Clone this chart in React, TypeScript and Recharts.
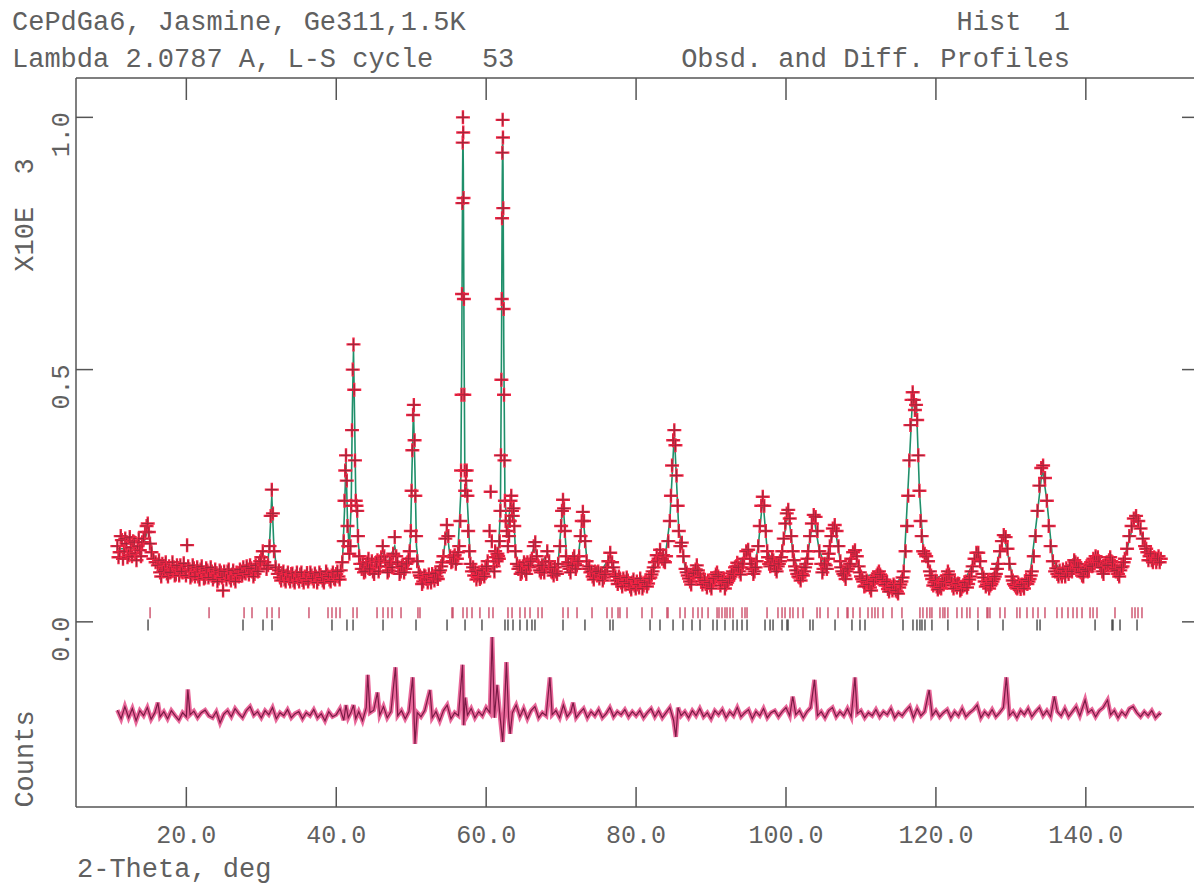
import React from 'react';
import { ComposedChart, XAxis, YAxis, Line, Scatter } from 'recharts';

const FONT = '"Liberation Mono", "Courier New", monospace';
const TEXT = '#606060';
const AXIS = '#555555';

const xTicks = [20, 40, 60, 80, 100, 120, 140];
const yTicks = [0, 0.5, 1.0];
const xDomain: [number, number] = [5.28, 154.43];
const yDomain: [number, number] = [-0.367, 1.078];

const titleLines = ['CePdGa6, Jasmine, Ge311,1.5K', 'Lambda 2.0787 A, L-S cycle   53'];
const rightTitles = ['Hist  1', 'Obsd. and Diff. Profiles'];
const xLabel = '2-Theta, deg';
const yLabelTop = 'X10E  3';
const yLabelBottom = 'Counts';

// observed intensity (x10^3 counts) vs 2-theta
const observed: [number, number][] = [
  [10.8,.150],[10.95,.128],[11.1,.138],[11.25,.170],[11.4,.162],[11.55,.125],[11.7,.140],[11.85,.165],[12.0,.155],[12.15,.128],
  [12.3,.132],[12.45,.168],[12.6,.148],[12.75,.130],[12.9,.160],[13.05,.158],[13.2,.136],[13.35,.122],[13.5,.150],[13.65,.165],
  [13.8,.142],[13.95,.130],[14.1,.158],[14.3,.165],[14.5,.178],[14.7,.190],[14.85,.195],[15.0,.178],[15.15,.155],[15.35,.138],
  [15.6,.125],[15.9,.118],[16.2,.112],[16.5,.098],[16.8,.115],[17.1,.104],[17.4,.096],[17.7,.110],[18.0,.100],[18.3,.108],
  [18.6,.094],[18.9,.105],[19.2,.112],[19.5,.098],[19.8,.104],[20.1,.152],[20.4,.100],[20.7,.092],[21.0,.106],[21.3,.098],
  [21.6,.090],[21.9,.104],[22.2,.096],[22.5,.088],[22.8,.102],[23.1,.094],[23.4,.100],[23.7,.090],[24.0,.096],[24.3,.086],
  [24.6,.098],[24.9,.062],[25.2,.092],[25.5,.100],[25.8,.088],[26.1,.094],[26.4,.086],[26.7,.098],[27.0,.090],[27.3,.100],
  [27.6,.108],[27.9,.096],[28.2,.104],[28.5,.112],[28.8,.100],[29.1,.095],[29.4,.106],[29.7,.115],[30.0,.128],[30.2,.140],
  [30.4,.118],[30.7,.105],[30.9,.112],[31.1,.150],[31.25,.210],[31.4,.262],[31.55,.215],[31.7,.140],[31.9,.108],[32.2,.095],
  [32.5,.088],[32.8,.096],[33.1,.084],[33.4,.092],[33.7,.086],[34.0,.095],[34.3,.082],[34.6,.090],[34.9,.086],[35.2,.094],
  [35.5,.083],[35.8,.090],[36.1,.097],[36.4,.086],[36.7,.092],[37.0,.080],[37.3,.090],[37.6,.085],[37.9,.093],[38.2,.082],
  [38.5,.088],[38.8,.094],[39.1,.084],[39.4,.092],[39.7,.086],[40.0,.095],[40.3,.090],[40.6,.102],[40.8,.118],[41.0,.160],
  [41.1,.240],[41.2,.300],[41.3,.330],[41.4,.280],[41.5,.190],[41.6,.150],[41.75,.135],[41.9,.150],[42.0,.230],[42.1,.380],
  [42.2,.500],[42.3,.550],[42.4,.460],[42.5,.320],[42.6,.240],[42.7,.230],[42.8,.220],[42.9,.170],[43.05,.130],[43.2,.115],
  [43.4,.105],[43.7,.098],[44.0,.110],[44.3,.125],[44.6,.112],[44.9,.100],[45.2,.108],[45.5,.122],[45.8,.110],[46.0,.128],
  [46.2,.150],[46.4,.130],[46.7,.110],[47.0,.102],[47.3,.115],[47.6,.135],[47.8,.168],[48.0,.130],[48.3,.108],[48.6,.100],
  [48.9,.112],[49.2,.105],[49.5,.118],[49.8,.140],[49.95,.180],[50.05,.260],[50.15,.340],[50.25,.410],[50.35,.430],[50.45,.360],
  [50.55,.250],[50.65,.170],[50.8,.120],[51.0,.098],[51.3,.088],[51.6,.080],[51.9,.090],[52.2,.078],[52.5,.086],[52.8,.095],
  [53.1,.082],[53.4,.090],[53.7,.098],[54.0,.110],[54.3,.130],[54.55,.165],[54.75,.192],[54.95,.170],[55.2,.130],[55.5,.120],
  [55.8,.132],[56.1,.125],[56.4,.150],[56.55,.200],[56.65,.300],[56.72,.450],[56.78,.650],[56.83,.830],[56.87,.950],[56.9,1.000],
  [56.94,.970],[56.98,.840],[57.03,.640],[57.08,.450],[57.14,.300],[57.2,.260],[57.3,.280],[57.4,.300],[57.5,.250],[57.6,.180],
  [57.75,.140],[57.9,.115],[58.1,.100],[58.4,.092],[58.7,.084],[59.0,.098],[59.3,.088],[59.6,.095],[59.9,.105],[60.2,.120],
  [60.45,.180],[60.6,.258],[60.75,.160],[61.0,.110],[61.2,.140],[61.4,.120],[61.6,.130],[61.8,.160],[61.9,.220],[61.97,.330],
  [62.03,.480],[62.08,.640],[62.12,.800],[62.16,.930],[62.2,.995],[62.24,.960],[62.28,.820],[62.33,.620],[62.38,.450],[62.44,.320],
  [62.5,.240],[62.6,.200],[62.75,.180],[62.9,.150],[63.05,.170],[63.15,.200],[63.25,.240],[63.35,.250],[63.45,.220],[63.55,.210],
  [63.65,.225],[63.75,.190],[63.9,.140],[64.1,.115],[64.3,.105],[64.6,.095],[64.9,.110],[65.2,.102],[65.5,.118],[65.8,.108],
  [66.1,.125],[66.35,.150],[66.55,.158],[66.75,.130],[67.0,.110],[67.3,.098],[67.6,.105],[67.9,.118],[68.15,.140],[68.4,.120],
  [68.7,.100],[69.0,.092],[69.3,.100],[69.6,.115],[69.85,.150],[70.0,.190],[70.12,.220],[70.25,.242],[70.38,.225],[70.5,.180],
  [70.65,.130],[70.85,.110],[71.1,.105],[71.35,.115],[71.6,.125],[71.85,.115],[72.1,.112],[72.4,.130],[72.6,.170],[72.75,.200],
  [72.9,.218],[73.05,.200],[73.2,.160],[73.4,.120],[73.6,.105],[73.9,.098],[74.2,.090],[74.5,.100],[74.8,.092],[75.1,.086],
  [75.4,.095],[75.7,.088],[76.0,.100],[76.3,.120],[76.55,.137],[76.8,.118],[77.1,.095],[77.4,.082],[77.7,.090],[78.0,.078],
  [78.3,.086],[78.6,.074],[78.9,.082],[79.2,.070],[79.5,.078],[79.8,.072],[80.1,.080],[80.4,.068],[80.7,.078],[81.0,.072],
  [81.3,.082],[81.6,.076],[81.9,.088],[82.2,.100],[82.5,.118],[82.75,.132],[83.0,.125],[83.2,.143],[83.45,.125],[83.7,.120],
  [84.0,.130],[84.3,.160],[84.5,.200],[84.65,.250],[84.8,.310],[84.95,.360],[85.1,.380],[85.25,.350],[85.4,.290],[85.55,.230],
  [85.7,.180],[85.9,.150],[86.1,.157],[86.3,.130],[86.6,.105],[86.9,.092],[87.2,.080],[87.5,.090],[87.8,.100],[88.1,.112],
  [88.4,.095],[88.7,.080],[89.0,.086],[89.3,.075],[89.6,.082],[89.9,.072],[90.2,.080],[90.5,.088],[90.8,.098],[91.1,.085],
  [91.4,.078],[91.7,.086],[92.0,.074],[92.3,.082],[92.6,.090],[92.9,.100],[93.2,.108],[93.5,.117],[93.8,.100],[94.1,.108],
  [94.4,.125],[94.7,.140],[94.95,.143],[95.2,.125],[95.5,.105],[95.8,.100],[96.1,.120],[96.3,.150],[96.5,.190],[96.7,.230],
  [96.9,.248],[97.1,.230],[97.3,.180],[97.5,.140],[97.75,.115],[98.0,.118],[98.3,.122],[98.6,.105],[98.9,.110],[99.2,.120],
  [99.5,.140],[99.7,.165],[99.9,.195],[100.1,.215],[100.3,.222],[100.5,.205],[100.7,.170],[100.9,.140],[101.2,.110],[101.5,.095],
  [101.8,.088],[102.1,.095],[102.4,.100],[102.7,.115],[102.95,.140],[103.2,.170],[103.45,.195],[103.7,.212],[103.95,.208],[104.2,.180],
  [104.45,.140],[104.7,.115],[105.0,.105],[105.3,.112],[105.6,.125],[105.85,.150],[106.05,.170],[106.25,.185],[106.5,.192],[106.75,.180],
  [107.0,.150],[107.25,.120],[107.5,.100],[107.8,.092],[108.1,.100],[108.4,.110],[108.7,.125],[108.95,.138],[109.2,.142],[109.45,.130],
  [109.7,.110],[110.0,.090],[110.3,.080],[110.6,.072],[110.9,.078],[111.2,.068],[111.5,.076],[111.8,.085],[112.1,.092],[112.4,.100],
  [112.7,.090],[113.0,.080],[113.3,.072],[113.6,.065],[113.9,.072],[114.2,.062],[114.5,.070],[114.8,.060],[115.1,.068],[115.4,.080],
  [115.7,.100],[115.95,.140],[116.15,.190],[116.3,.250],[116.45,.320],[116.6,.390],[116.75,.440],[116.9,.455],[117.05,.440],[117.2,.420],
  [117.35,.430],[117.5,.400],[117.65,.330],[117.8,.260],[117.95,.200],[118.1,.170],[118.3,.140],[118.5,.135],[118.7,.130],[118.95,.120],
  [119.2,.100],[119.5,.085],[119.8,.078],[120.1,.070],[120.4,.076],[120.7,.066],[121.0,.074],[121.3,.085],[121.6,.100],[121.9,.085],
  [122.2,.072],[122.5,.080],[122.8,.068],[123.1,.075],[123.4,.065],[123.7,.072],[124.0,.080],[124.3,.075],[124.6,.090],[124.9,.110],
  [125.15,.125],[125.4,.137],[125.65,.137],[125.9,.120],[126.2,.095],[126.5,.080],[126.8,.074],[127.1,.066],[127.4,.075],[127.7,.085],
  [128.0,.095],[128.3,.115],[128.55,.140],[128.8,.160],[129.05,.172],[129.3,.168],[129.55,.145],[129.8,.115],[130.1,.090],[130.4,.075],
  [130.7,.068],[131.0,.076],[131.3,.065],[131.6,.072],[131.9,.080],[132.2,.075],[132.5,.085],[132.8,.100],[133.05,.130],[133.3,.170],
  [133.55,.220],[133.8,.270],[134.05,.305],[134.3,.310],[134.55,.285],[134.8,.240],[135.05,.190],[135.3,.150],[135.6,.120],[135.9,.100],
  [136.2,.095],[136.5,.102],[136.8,.090],[137.1,.098],[137.4,.106],[137.7,.095],[138.0,.105],[138.3,.112],[138.6,.118],[138.9,.115],
  [139.2,.100],[139.5,.092],[139.8,.100],[140.1,.110],[140.4,.105],[140.7,.118],[141.0,.125],[141.3,.130],[141.6,.128],[141.9,.115],
  [142.2,.100],[142.5,.108],[142.8,.118],[143.1,.122],[143.4,.120],[143.7,.112],[144.0,.100],[144.3,.095],[144.6,.102],[144.9,.110],
  [145.2,.125],[145.5,.145],[145.8,.170],[146.1,.190],[146.4,.205],[146.7,.210],[147.0,.200],[147.3,.185],[147.6,.165],[147.9,.150],
  [148.2,.138],[148.5,.130],[148.8,.122],[149.1,.128],[149.4,.118],[149.7,.130],[150.0,.125],
];

// further observed points in the background stretches (read between the points above)
const observedBetween: [number, number][] = [
  [16.35,.122],[16.65,.090],[16.95,.100],[17.25,.118],[17.55,.090],[17.85,.098],[18.15,.118],[18.45,.092],[18.75,.112],[19.05,.092],
  [19.35,.100],[19.65,.116],[19.95,.092],[20.25,.110],[20.55,.088],[20.85,.112],[21.15,.090],[21.45,.108],[21.75,.084],[22.05,.110],
  [22.35,.086],[22.65,.106],[22.95,.088],[23.25,.108],[23.55,.084],[23.85,.104],[24.15,.080],[24.45,.102],[24.75,.088],[25.05,.100],
  [25.35,.084],[25.65,.104],[25.95,.082],[26.25,.102],[26.55,.080],[26.85,.096],[27.15,.104],[27.45,.092],[27.75,.098],[28.05,.110],
  [28.35,.094],[28.65,.106],[28.95,.090],[29.25,.112],[29.55,.100],[29.85,.120],
  [32.35,.102],[32.65,.082],[32.95,.100],[33.25,.080],[33.55,.098],[33.85,.080],[34.15,.096],[34.45,.078],[34.75,.098],[35.05,.080],
  [35.35,.098],[35.65,.078],[35.95,.086],[36.25,.080],[36.55,.098],[36.85,.086],[37.15,.096],[37.45,.078],[37.75,.098],[38.05,.088],
  [38.35,.078],[38.65,.100],[38.95,.090],[39.25,.080],[39.55,.098],[39.85,.084],[40.15,.100],[40.45,.084],
  [43.55,.115],[43.85,.100],[44.15,.118],[44.45,.105],[44.75,.120],[45.05,.095],[45.35,.118],[45.65,.100],[45.9,.120],[46.55,.120],
  [46.85,.098],[47.15,.118],[47.45,.108],[48.15,.118],[48.45,.095],[48.75,.110],[49.05,.098],[49.35,.115],[49.65,.125],
  [51.15,.092],[51.45,.075],[51.75,.092],[52.05,.085],[52.35,.094],[52.65,.078],[52.95,.088],[53.25,.096],[53.55,.085],[53.85,.102],
  [54.15,.118],[55.35,.118],[55.65,.128],[55.95,.115],[56.25,.138],
  [58.25,.108],[58.55,.100],[58.85,.092],[59.15,.085],[59.45,.102],[59.75,.090],[60.05,.110],[61.1,.100],[61.3,.128],[61.5,.135],[61.7,.125],
  [64.45,.110],[64.75,.098],[65.05,.118],[65.35,.095],[65.65,.112],[65.95,.120],[67.15,.102],[67.45,.112],[67.75,.098],[68.55,.108],
  [68.85,.098],[69.15,.108],[69.45,.095],
  [70.95,.118],[71.25,.098],[71.5,.112],[71.75,.130],[71.95,.105],[72.25,.120],[73.75,.110],[74.05,.100],[74.35,.084],[74.65,.098],
  [74.95,.100],[75.25,.096],[75.55,.082],[75.85,.094],[76.15,.108],
  [76.95,.108],[77.25,.090],[77.55,.075],[77.85,.086],[78.15,.070],[78.45,.080],[78.75,.088],[79.05,.076],[79.35,.064],[79.65,.084],
  [79.95,.066],[80.25,.074],[80.55,.086],[80.85,.066],[81.15,.078],[81.45,.070],[81.75,.086],[82.05,.094],[82.35,.108],[82.9,.120],
  [83.6,.132],[83.85,.118],
  [86.75,.098],[87.05,.086],[87.35,.074],[87.65,.096],[87.95,.104],[88.25,.102],[88.55,.088],[88.85,.074],[89.15,.082],[89.45,.068],
  [89.75,.078],[90.05,.066],[90.35,.086],[90.65,.094],[90.95,.090],[91.25,.072],[91.55,.082],[91.85,.066],[92.15,.078],[92.45,.086],
  [92.75,.096],[93.05,.094],[93.35,.110],[93.65,.108],[93.95,.094],[94.25,.115],
  [95.35,.115],[95.65,.095],[95.95,.108],[97.6,.128],[97.9,.110],[98.15,.125],[98.45,.112],[98.75,.100],[99.05,.115],[99.35,.128],
  [101.05,.122],[101.35,.102],[101.65,.090],[101.95,.082],[102.25,.092],[102.55,.108],[102.85,.125],
  [104.85,.098],[105.15,.115],[105.45,.105],[105.7,.135],[107.35,.108],[107.65,.095],[107.95,.085],[108.25,.105],[108.55,.115],
  [109.85,.098],[110.15,.085],[110.45,.070],[110.75,.082],[111.05,.074],[111.35,.062],[111.65,.080],[111.95,.088],[112.25,.096],[112.55,.094],
  [112.85,.084],[113.15,.074],[113.45,.080],[113.75,.060],[114.05,.068],[114.35,.074],[114.65,.062],[114.95,.056],[115.25,.074],[115.55,.088],
  [119.35,.092],[119.65,.072],[119.95,.082],[120.25,.064],[120.55,.068],[120.85,.080],[121.15,.080],[121.45,.092],[121.75,.094],[122.05,.078],
  [122.35,.066],[122.65,.074],[122.95,.076],[123.25,.062],[123.55,.070],[123.85,.078],[124.15,.068],[124.45,.084],[124.75,.100],
  [126.35,.088],[126.65,.070],[126.95,.080],[127.25,.072],[127.55,.080],[127.85,.090],[128.15,.105],
  [130.25,.082],[130.55,.072],[130.85,.066],[131.15,.070],[131.45,.074],[131.75,.066],[132.05,.084],[132.35,.080],[132.65,.092],
  [136.05,.106],[136.35,.090],[136.65,.096],[136.95,.104],[137.25,.090],[137.55,.100],[137.85,.110],[138.15,.100],[138.45,.122],[138.75,.108],
  [139.05,.108],[139.35,.098],[139.65,.090],[139.95,.104],[140.25,.100],[140.55,.112],[140.85,.110],[141.15,.120],[141.45,.120],[141.75,.120],
  [142.05,.108],[142.35,.095],[142.65,.114],[142.95,.112],[143.25,.128],[143.55,.118],[143.85,.105],[144.15,.102],[144.45,.090],[144.75,.108],
  [145.05,.118],[148.05,.145],[148.35,.122],[148.65,.135],[148.95,.118],[149.25,.126],[149.55,.125],[149.85,.118],
];

// calculated profile
const calculated: [number, number][] = [
  [10.8,.145],[13,.145],[14.3,.155],[14.9,.185],[15.5,.135],[16.5,.108],[20,.102],[25,.095],[28,.098],[30.2,.115],
  [30.9,.12],[31.15,.17],[31.4,.25],[31.65,.16],[32,.105],[36,.088],[40,.09],[40.8,.11],[41.1,.22],[41.3,.32],
  [41.5,.2],[41.75,.14],[42.0,.24],[42.15,.42],[42.3,.54],[42.45,.4],[42.6,.25],[42.75,.23],[42.9,.16],[43.3,.11],
  [44.3,.115],[45,.108],[46.2,.14],[46.7,.11],[47.8,.15],[48.3,.108],[49.5,.115],[49.9,.16],[50.1,.3],[50.3,.42],
  [50.5,.3],[50.7,.15],[51.1,.095],[53,.088],[54.2,.12],[54.75,.185],[55.2,.125],[56.2,.13],[56.6,.25],[56.75,.55],
  [56.85,.88],[56.9,.975],[56.95,.9],[57.05,.55],[57.15,.3],[57.35,.28],[57.55,.22],[57.9,.115],[59,.095],[60.6,.1],
  [61.6,.13],[61.9,.22],[62.05,.55],[62.15,.88],[62.2,.965],[62.25,.9],[62.35,.55],[62.5,.25],[62.8,.17],[63.3,.245],
  [63.5,.215],[63.65,.225],[63.9,.14],[64.3,.105],[65.5,.11],[66.5,.152],[67,.11],[68.2,.135],[68.8,.1],[69.6,.115],
  [70.25,.24],[70.8,.11],[71.6,.12],[72.2,.115],[72.9,.215],[73.5,.11],[75,.092],[76.55,.13],[77.3,.088],[80,.075],
  [82,.09],[82.75,.128],[83.2,.14],[83.8,.12],[84.5,.2],[85.1,.375],[85.7,.18],[86.1,.155],[86.6,.1],[88.1,.108],
  [89,.08],[92,.08],[93.5,.112],[94.95,.14],[95.7,.1],[96.3,.15],[96.9,.245],[97.5,.14],[98.3,.118],[99,.11],
  [99.6,.155],[100.3,.22],[100.9,.14],[101.8,.09],[102.9,.135],[103.7,.21],[104.4,.145],[105.2,.11],[106.5,.19],[107.3,.115],
  [108.1,.1],[109.2,.14],[110,.09],[112.4,.095],[114.5,.068],[115.7,.1],[116.4,.3],[116.9,.45],[117.2,.42],[117.4,.43],
  [117.8,.26],[118.3,.145],[118.7,.13],[119.5,.085],[121.6,.095],[123.5,.07],[125.5,.135],[126.5,.08],[127.4,.075],[129.1,.17],
  [130.4,.075],[132.5,.085],[133.5,.21],[134.2,.305],[134.8,.24],[135.6,.12],[137,.098],[138.7,.115],[139.5,.095],[141.3,.128],
  [142.2,.102],[143.3,.12],[144.3,.098],[145.5,.145],[146.6,.208],[147.6,.165],[148.8,.125],[150,.125],
];

// difference curve (obs - calc, offset)
const difference: [number, number][] = [
  [10.8,-.175],[11.3,-.192],[11.8,-.168],[12.3,-.190],[12.8,-.172],[13.3,-.196],[13.8,-.176],[14.3,-.186],[14.8,-.170],[15.3,-.193],
  [15.8,-.180],[16.2,-.160],[16.5,-.188],[17.0,-.178],[17.5,-.192],[18.0,-.176],[18.5,-.186],[19.0,-.195],[19.5,-.180],[20.0,-.188],
  [20.2,-.134],[20.5,-.184],[21.0,-.177],[21.5,-.190],[22.0,-.180],[22.5,-.175],[23.0,-.186],[23.5,-.190],[24.0,-.178],[24.5,-.200],
  [25.0,-.183],[25.5,-.176],[26.0,-.188],[26.5,-.172],[27.0,-.182],[27.5,-.190],[28.0,-.176],[28.5,-.168],[29.0,-.185],[29.5,-.178],
  [30.0,-.190],[30.5,-.176],[31.0,-.184],[31.5,-.170],[32.0,-.192],[32.5,-.180],[33.0,-.186],[33.5,-.174],[34.0,-.190],[34.5,-.182],
  [35.0,-.178],[35.5,-.192],[36.0,-.180],[36.5,-.186],[37.0,-.174],[37.5,-.190],[38.0,-.182],[38.5,-.196],[39.0,-.178],[39.5,-.188],
  [40.0,-.184],[40.5,-.172],[41.0,-.195],[41.3,-.165],[41.6,-.190],[42.0,-.178],[42.3,-.165],[42.6,-.192],[43.0,-.178],[43.5,-.196],
  [44.0,-.170],[44.2,-.105],[44.5,-.180],[45.0,-.175],[45.5,-.140],[45.8,-.185],[46.3,-.168],[46.8,-.190],[47.3,-.178],[47.9,-.090],
  [48.2,-.186],[48.7,-.176],[49.2,-.192],[49.7,-.178],[50.2,-.110],[50.5,-.242],[50.8,-.180],[51.3,-.188],[51.8,-.176],[52.5,-.135],
  [52.8,-.190],[53.3,-.178],[53.8,-.196],[54.3,-.176],[54.8,-.165],[55.3,-.192],[55.8,-.180],[56.3,-.186],[56.85,-.085],[57.0,-.205],
  [57.2,-.150],[57.5,-.185],[58.0,-.172],[58.5,-.190],[59.0,-.178],[59.5,-.186],[60.0,-.170],[60.5,-.180],[60.8,-.030],[61.1,-.190],
  [61.45,-.125],[61.8,-.180],[62.2,-.238],[62.45,-.170],[62.7,-.080],[63.0,-.190],[63.2,-.222],[63.5,-.180],[64.0,-.165],[64.5,-.188],
  [65.0,-.172],[65.5,-.192],[66.0,-.176],[66.5,-.168],[67.0,-.190],[67.5,-.180],[68.0,-.186],[68.5,-.110],[68.8,-.184],[69.3,-.176],
  [69.8,-.190],[70.3,-.165],[70.8,-.188],[71.3,-.178],[71.6,-.160],[72.0,-.190],[72.5,-.180],[73.0,-.172],[73.5,-.190],[74.0,-.178],
  [74.5,-.186],[75.0,-.174],[75.5,-.190],[76.0,-.182],[76.5,-.170],[77.0,-.188],[77.5,-.178],[78.0,-.184],[78.5,-.174],[79.0,-.188],
  [79.5,-.178],[80.0,-.186],[80.5,-.176],[81.0,-.190],[81.5,-.180],[82.0,-.172],[82.5,-.188],[83.0,-.176],[83.5,-.190],[84.0,-.180],
  [84.5,-.170],[85.0,-.195],[85.3,-.228],[85.6,-.170],[86.0,-.186],[86.5,-.178],[87.0,-.190],[87.5,-.176],[88.0,-.186],[88.5,-.172],
  [89.0,-.188],[89.5,-.180],[90.0,-.192],[90.5,-.176],[91.0,-.184],[91.5,-.174],[92.0,-.190],[92.5,-.178],[93.0,-.186],[93.5,-.170],
  [94.0,-.188],[94.5,-.180],[95.0,-.174],[95.5,-.192],[96.0,-.178],[96.5,-.186],[97.0,-.172],[97.5,-.190],[98.0,-.180],[98.5,-.176],
  [99.0,-.188],[99.5,-.178],[100.0,-.170],[100.5,-.186],[100.9,-.148],[101.3,-.184],[101.8,-.176],[102.3,-.190],[102.8,-.178],[103.3,-.170],
  [103.8,-.115],[104.2,-.186],[104.7,-.178],[105.2,-.190],[105.7,-.176],[106.2,-.170],[106.7,-.188],[107.2,-.178],[107.7,-.186],[108.2,-.172],
  [108.7,-.188],[109.2,-.110],[109.5,-.182],[110.0,-.176],[110.5,-.190],[111.0,-.180],[111.5,-.186],[112.0,-.174],[112.5,-.188],[113.0,-.178],
  [113.5,-.184],[114.0,-.172],[114.5,-.190],[115.0,-.180],[115.5,-.186],[116.0,-.176],[116.5,-.168],[117.0,-.190],[117.5,-.172],[118.0,-.186],
  [118.5,-.178],[119.1,-.135],[119.5,-.186],[120.0,-.176],[120.5,-.188],[121.0,-.180],[121.5,-.174],[122.0,-.190],[122.5,-.178],[123.0,-.186],
  [123.5,-.172],[124.0,-.188],[124.5,-.180],[125.0,-.174],[125.5,-.165],[126.0,-.190],[126.5,-.178],[127.0,-.186],[127.5,-.174],[128.0,-.188],
  [128.5,-.180],[129.0,-.170],[129.4,-.110],[129.8,-.186],[130.3,-.178],[130.8,-.190],[131.3,-.176],[131.8,-.184],[132.3,-.172],[132.8,-.188],
  [133.3,-.178],[133.8,-.170],[134.3,-.186],[134.8,-.176],[135.3,-.188],[135.8,-.148],[136.2,-.178],[136.7,-.186],[137.2,-.172],[137.7,-.188],
  [138.2,-.178],[138.7,-.168],[139.2,-.186],[139.9,-.155],[140.3,-.180],[140.8,-.174],[141.3,-.188],[141.8,-.176],[142.3,-.170],[142.9,-.155],
  [143.3,-.184],[143.8,-.176],[144.3,-.190],[144.8,-.178],[145.3,-.186],[145.8,-.172],[146.3,-.168],[146.8,-.180],[147.3,-.188],[147.8,-.178],
  [148.3,-.186],[148.8,-.176],[149.3,-.190],[149.8,-.182],[150.0,-.185],
];

// reflection positions (2-theta), upper row (phase 1) and lower row (phase 2)
const reflectionsUpper = [
  15.16,23.03,27.70,28.76,30.76,31.43,32.37,36.36,38.90,39.43,39.97,40.50,42.24,42.77,45.44,46.24,46.90,47.44,48.64,50.90,
  51.17,55.44,55.57,56.91,57.44,58.11,59.17,60.37,60.91,62.91,63.45,64.51,65.18,65.85,66.92,67.45,70.25,70.92,72.12,74.12,
  76.12,76.79,77.59,77.85,78.79,80.79,82.12,84.12,84.26,85.86,86.53,87.59,88.26,88.80,89.60,90.80,91.06,91.46,91.86,92.13,
  92.53,92.93,94.13,94.53,94.80,97.47,98.93,99.47,99.87,100.53,100.93,101.60,102.27,104.14,104.54,105.60,106.94,108.14,108.27,108.94,
  109.87,110.94,111.47,111.87,112.27,112.94,114.14,115.47,117.87,118.27,118.80,119.20,119.47,120.54,120.94,121.20,121.60,122.81,123.47,124.14,
  124.54,125.61,126.81,126.94,127.21,128.55,129.21,130.81,131.21,132.15,132.95,133.62,134.55,136.15,136.82,137.62,138.29,138.82,139.49,140.56,
  140.96,141.49,143.89,146.16,146.56,146.96,147.49,
];
const reflectionsLower = [
  14.89,27.56,30.23,31.43,39.43,41.43,42.24,46.24,50.64,54.78,57.18,59.44,62.51,62.91,63.58,64.51,65.45,66.11,66.51,70.25,
  73.18,76.52,76.92,81.86,83.19,84.93,86.26,87.46,88.53,90.26,90.80,91.86,92.93,93.47,94.13,94.80,97.20,97.87,98.27,99.47,
  100.13,100.27,103.20,103.60,106.54,108.80,109.87,110.54,115.61,116.94,117.47,117.87,118.14,118.54,119.47,121.60,125.61,128.95,133.49,133.89,
  141.23,143.49,143.62,144.56,146.83,
];
const upperRowLevel = 0.018;
const lowerRowLevel = -0.006;

const obsData = observed.concat(observedBetween).map(([x, y]) => ({ x, y }));
const calcData = calculated.map(([x, y]) => ({ x, y }));
const diffData = difference.map(([x, y]) => ({ x, y }));
const upperData = reflectionsUpper.map((x) => ({ x, y: upperRowLevel }));
const lowerData = reflectionsLower.map((x) => ({ x, y: lowerRowLevel }));

const PlusMarker = (p: any) => {
  const { cx, cy } = p;
  if (cx == null || cy == null) return <g />;
  return (
    <g>
      <path d={`M${cx - 7},${cy}H${cx + 7}M${cx},${cy - 7}V${cy + 7}`} stroke="#f42444" strokeWidth={2.4} fill="none" />
      <path d={`M${cx - 5.5},${cy}H${cx + 5.5}M${cx},${cy - 5.5}V${cy + 5.5}`} stroke="#3a2a30" strokeWidth={1.1} opacity={0.45} fill="none" />
    </g>
  );
};

const makeTickMark = (color: string) => (p: any) => {
  const { cx, cy } = p;
  if (cx == null || cy == null) return <g />;
  return <path d={`M${cx},${cy - 5.5}V${cy + 5.5}`} stroke={color} strokeWidth={1.3} fill="none" />;
};
const UpperTickMark = makeTickMark('#c8405e');
const LowerTickMark = makeTickMark('#3a3a3a');

const BottomTick = (p: any) => (
  <g>
    <line x1={p.x} x2={p.x} y1={p.y} y2={p.y - 20} stroke={AXIS} strokeWidth={1.5} />
    <text x={p.x} y={p.y + 36} textAnchor="middle" fontFamily={FONT} fontSize={25} fill={TEXT}>
      {Number(p.payload.value).toFixed(1)}
    </text>
  </g>
);
const TopTick = (p: any) => (
  <line x1={p.x} x2={p.x} y1={p.y} y2={p.y + 22} stroke={AXIS} strokeWidth={1.5} />
);
const LeftTick = (p: any) => (
  <g>
    <line x1={p.x} x2={p.x + 17} y1={p.y} y2={p.y} stroke={AXIS} strokeWidth={1.5} />
    <text transform={`translate(${p.x - 7},${p.y - 5}) rotate(-90)`} textAnchor="end" fontFamily={FONT} fontSize={25} fill={TEXT}>
      {Number(p.payload.value).toFixed(1)}
    </text>
  </g>
);
const RightTick = (p: any) => (
  <line x1={p.x - 12} x2={p.x} y1={p.y} y2={p.y} stroke={AXIS} strokeWidth={1.5} />
);

const textStyle: React.CSSProperties = { whiteSpace: 'pre' };

export default function App() {
  return (
    <div style={{ position: 'absolute', left: 0, top: 0, width: 1194, height: 886, background: '#ffffff', overflow: 'hidden' }}>
      <ComposedChart width={1195} height={886} margin={{ top: 77, right: 0, bottom: 78, left: 75 }}>
        <XAxis xAxisId="b" type="number" dataKey="x" domain={xDomain} ticks={xTicks} interval={0} allowDataOverflow
          height={1} tickSize={0} tickMargin={0} tickLine={false} axisLine={{ stroke: AXIS, strokeWidth: 1.5 }} tick={BottomTick} />
        <XAxis xAxisId="t" orientation="top" type="number" dataKey="x" domain={xDomain} ticks={xTicks} interval={0} allowDataOverflow
          height={1} tickSize={0} tickMargin={0} tickLine={false} axisLine={{ stroke: AXIS, strokeWidth: 1.5 }} tick={TopTick} />
        <YAxis yAxisId="l" type="number" dataKey="y" domain={yDomain} ticks={yTicks} interval={0} allowDataOverflow
          width={1} tickSize={0} tickMargin={0} tickLine={false} axisLine={{ stroke: AXIS, strokeWidth: 1.5 }} tick={LeftTick} />
        <YAxis yAxisId="r" orientation="right" type="number" dataKey="y" domain={yDomain} ticks={yTicks} interval={0} allowDataOverflow
          width={1} tickSize={0} tickMargin={0} tickLine={false} axisLine={false} tick={RightTick} />

        <Scatter xAxisId="b" yAxisId="l" data={upperData} dataKey="y" shape={UpperTickMark} isAnimationActive={false} />
        <Scatter xAxisId="b" yAxisId="l" data={lowerData} dataKey="y" shape={LowerTickMark} isAnimationActive={false} />
        <Line xAxisId="b" yAxisId="l" data={calcData} dataKey="y" type="linear" stroke="#1f8f6a" strokeWidth={1.6} dot={false} isAnimationActive={false} />
        <Scatter xAxisId="b" yAxisId="l" data={obsData} dataKey="y" shape={PlusMarker} isAnimationActive={false} />
        <Line xAxisId="b" yAxisId="l" data={diffData} dataKey="y" type="linear" stroke="#e23678" strokeOpacity={0.75} strokeWidth={4.5} dot={false} isAnimationActive={false} />
        <Line xAxisId="b" yAxisId="l" data={diffData} dataKey="y" type="linear" stroke="#7a1a45" strokeWidth={1.2} dot={false} isAnimationActive={false} />
      </ComposedChart>
      <svg width={1194} height={886} style={{ position: 'absolute', left: 0, top: 0, pointerEvents: 'none' }}>
        <text x={12} y={30} fontFamily={FONT} fontSize={27} fill={TEXT} style={textStyle} xmlSpace="preserve">{titleLines[0]}</text>
        <text x={12} y={67} fontFamily={FONT} fontSize={27} fill={TEXT} style={textStyle} xmlSpace="preserve">{titleLines[1]}</text>
        <text x={1070} y={30} textAnchor="end" fontFamily={FONT} fontSize={27} fill={TEXT} style={textStyle} xmlSpace="preserve">{rightTitles[0]}</text>
        <text x={1070} y={67} textAnchor="end" fontFamily={FONT} fontSize={27} fill={TEXT} style={textStyle} xmlSpace="preserve">{rightTitles[1]}</text>
        <text x={77} y={877} fontFamily={FONT} fontSize={27} fill={TEXT} style={textStyle} xmlSpace="preserve">{xLabel}</text>
        <text transform="translate(33,215) rotate(-90)" textAnchor="middle" fontFamily={FONT} fontSize={27} fill={TEXT} style={textStyle} xmlSpace="preserve">{yLabelTop}</text>
        <text transform="translate(33,759) rotate(-90)" textAnchor="middle" fontFamily={FONT} fontSize={27} fill={TEXT} style={textStyle} xmlSpace="preserve">{yLabelBottom}</text>
      </svg>
    </div>
  );
}
